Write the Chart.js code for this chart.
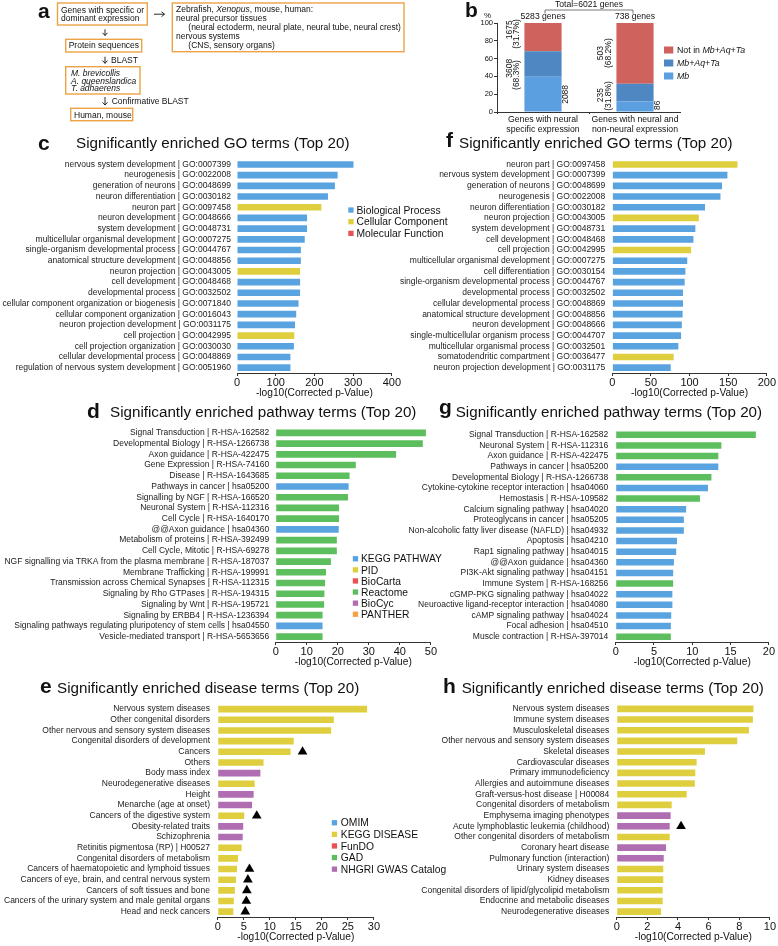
<!DOCTYPE html>
<html><head><meta charset="utf-8">
<script src="https://cdn.jsdelivr.net/npm/chart.js@4.4.1/dist/chart.umd.min.js"></script>
<style>
html,body{margin:0;padding:0;background:#fff;overflow:hidden;width:778px;height:946px;}
#wrap{position:relative;width:778px;height:946px;}
canvas{position:absolute;}
#ov{position:absolute;left:0;top:0;}
</style></head><body><div id="wrap">
<svg id="ov" width="778" height="946" xmlns="http://www.w3.org/2000/svg"></svg>
</div>
<script>
// ---------------- DATA ----------------
const bCategories = [['Genes with neural','specific expression'],['Genes with neural and','non-neural expression']];
const bTotals = [5283, 738];
const bTotalAll = 6021;
const bMbPct = [39.5, 11.7];
const bSharedOnlyPct = [28.8, 20.1];
const bNotPct = [31.7, 68.2];
const bMbCounts = [2088, 86];
const bSharedCounts = [3608, 235];
const bSharedPctText = ['68.3', '31.8'];
const bNotCounts = [1675, 503];
const bNotPctText = ['31.7', '68.2'];

const cLabels = ['nervous system development | GO:0007399','neurogenesis | GO:0022008','generation of neurons | GO:0048699','neuron differentiation | GO:0030182','neuron part | GO:0097458','neuron development | GO:0048666','system development | GO:0048731','multicellular organismal development | GO:0007275','single-organism developmental process | GO:0044767','anatomical structure development | GO:0048856','neuron projection | GO:0043005','cell development | GO:0048468','developmental process | GO:0032502','cellular component organization or biogenesis | GO:0071840','cellular component organization | GO:0016043','neuron projection development | GO:0031175','cell projection | GO:0042995','cell projection organization | GO:0030030','cellular developmental process | GO:0048869','regulation of nervous system development | GO:0051960'];
const cValues = [301,260,253,235,218,181,181,175,165,165,163,163,163,159,153,150,148,147,138,138];
const cTypes = ['BP','BP','BP','BP','CC','BP','BP','BP','BP','BP','CC','BP','BP','BP','BP','BP','CC','BP','BP','BP'];

const fLabels = ['neuron part | GO:0097458','nervous system development | GO:0007399','generation of neurons | GO:0048699','neurogenesis | GO:0022008','neuron differentiation | GO:0030182','neuron projection | GO:0043005','system development | GO:0048731','cell development | GO:0048468','cell projection | GO:0042995','multicellular organismal development | GO:0007275','cell differentiation | GO:0030154','single-organism developmental process | GO:0044767','developmental process | GO:0032502','cellular developmental process | GO:0048869','anatomical structure development | GO:0048856','neuron development | GO:0048666','single-multicellular organism process | GO:0044707','multicellular organismal process | GO:0032501','somatodendritic compartment | GO:0036477','neuron projection development | GO:0031175'];
const fValues = [162,149,142,140,120,112,107.5,105,102,97,94.6,93.7,91.5,91.5,91,90,89,85.5,79.4,75.6];
const fTypes = ['CC','BP','BP','BP','BP','CC','BP','BP','CC','BP','BP','BP','BP','BP','BP','BP','BP','BP','CC','BP'];

const dLabels = ['Signal Transduction | R-HSA-162582','Developmental Biology | R-HSA-1266738','Axon guidance | R-HSA-422475','Gene Expression | R-HSA-74160','Disease | R-HSA-1643685','Pathways in cancer | hsa05200','Signalling by NGF | R-HSA-166520','Neuronal System | R-HSA-112316','Cell Cycle | R-HSA-1640170','@@Axon guidance | hsa04360','Metabolism of proteins | R-HSA-392499','Cell Cycle, Mitotic | R-HSA-69278','NGF signalling via TRKA from the plasma membrane | R-HSA-187037','Membrane Trafficking | R-HSA-199991','Transmission across Chemical Synapses | R-HSA-112315','Signaling by Rho GTPases | R-HSA-194315','Signaling by Wnt | R-HSA-195721','Signaling by ERBB4 | R-HSA-1236394','Signaling pathways regulating pluripotency of stem cells | hsa04550','Vesicle-mediated transport | R-HSA-5653656'];
const dValues = [48.4,47.4,38.8,25.8,23.8,23.5,23.3,20.4,20.4,20.3,19.7,19.7,17.8,16.2,15.9,15.7,15.6,15.1,15.1,15.1];
const dSources = ['Reactome','Reactome','Reactome','Reactome','Reactome','KEGG','Reactome','Reactome','Reactome','KEGG','Reactome','Reactome','Reactome','Reactome','Reactome','Reactome','Reactome','Reactome','KEGG','Reactome'];

const gLabels = ['Signal Transduction | R-HSA-162582','Neuronal System | R-HSA-112316','Axon guidance | R-HSA-422475','Pathways in cancer | hsa05200','Developmental Biology | R-HSA-1266738','Cytokine-cytokine receptor interaction | hsa04060','Hemostasis | R-HSA-109582','Calcium signaling pathway | hsa04020','Proteoglycans in cancer | hsa05205','Non-alcoholic fatty liver disease (NAFLD) | hsa04932','Apoptosis | hsa04210','Rap1 signaling pathway | hsa04015','@@Axon guidance | hsa04360','PI3K-Akt signaling pathway | hsa04151','Immune System | R-HSA-168256','cGMP-PKG signaling pathway | hsa04022','Neuroactive ligand-receptor interaction | hsa04080','cAMP signaling pathway | hsa04024','Focal adhesion | hsa04510','Muscle contraction | R-HSA-397014'];
const gValues = [18.3,13.8,13.4,13.4,12.5,12.05,11.0,9.2,8.9,8.9,8.0,7.9,7.6,7.5,7.5,7.4,7.4,7.25,7.2,7.2];
const gSources = ['Reactome','Reactome','Reactome','KEGG','Reactome','KEGG','Reactome','KEGG','KEGG','KEGG','KEGG','KEGG','KEGG','KEGG','Reactome','KEGG','KEGG','KEGG','KEGG','Reactome'];

const eLabels = ['Nervous system diseases','Other congenital disorders','Other nervous and sensory system diseases','Congenital disorders of development','Cancers','Others','Body mass index','Neurodegenerative diseases','Height','Menarche (age at onset)','Cancers of the digestive system','Obesity-related traits','Schizophrenia','Retinitis pigmentosa (RP) | H00527','Congenital disorders of metabolism','Cancers of haematopoietic and lymphoid tissues','Cancers of eye, brain, and central nervous system','Cancers of soft tissues and bone','Cancers of the urinary system and male genital organs','Head and neck cancers'];
const eValues = [28.7,22.3,21.8,14.6,14.0,8.8,8.2,7.1,6.9,6.6,5.1,4.9,4.8,4.6,3.9,3.7,3.5,3.3,3.1,3.0];
const eSources = ['KEGGD','KEGGD','KEGGD','KEGGD','KEGGD','KEGGD','NHGRI','KEGGD','NHGRI','NHGRI','KEGGD','NHGRI','NHGRI','KEGGD','KEGGD','KEGGD','KEGGD','KEGGD','KEGGD','KEGGD'];
const eTriangles = [null,null,null,null,16.3,null,null,null,null,null,7.5,null,null,null,null,6.1,5.8,5.6,5.5,5.3];

const hLabels = ['Nervous system diseases','Immune system diseases','Musculoskeletal diseases','Other nervous and sensory system diseases','Skeletal diseases','Cardiovascular diseases','Primary immunodeficiency','Allergies and autoimmune diseases','Graft-versus-host disease | H00084','Congenital disorders of metabolism','Emphysema imaging phenotypes','Acute lymphoblastic leukemia (childhood)','Other congenital disorders of metabolism','Coronary heart disease','Pulmonary function (interaction)','Urinary system diseases','Kidney diseases','Congenital disorders of lipid/glycolipid metabolism','Endocrine and metabolic diseases','Neurodegenerative diseases'];
const hValues = [8.93,8.89,8.63,7.87,5.76,5.22,5.13,5.1,4.57,3.59,3.52,3.46,3.46,3.22,3.07,3.04,3.04,3.0,3.0,2.89];
const hSources = ['KEGGD','KEGGD','KEGGD','KEGGD','KEGGD','KEGGD','KEGGD','KEGGD','KEGGD','KEGGD','NHGRI','NHGRI','KEGGD','NHGRI','NHGRI','KEGGD','KEGGD','KEGGD','KEGGD','KEGGD'];
const hTriangles = [null,null,null,null,null,null,null,null,null,null,null,4.2,null,null,null,null,null,null,null,null];

const goLegend = [['BP','Biological Process'],['CC','Cellular Component'],['MF','Molecular Function']];
const pathLegend = [['KEGG','KEGG PATHWAY'],['PID','PID'],['BioCarta','BioCarta'],['Reactome','Reactome'],['BioCyc','BioCyc'],['PANTHER','PANTHER']];
const disLegend = [['OMIM','OMIM'],['KEGGD','KEGG DISEASE'],['FunDO','FunDO'],['GAD','GAD'],['NHGRI','NHGRI GWAS Catalog']];

// ---------------- STYLE ----------------
const FF = '"Liberation Sans", Arial, Helvetica, sans-serif';
const BLUE='#5aa3e1', YEL='#dfcf3f', RED='#e85252', GRN='#5dbe5d', PUR='#b06db1', ORA='#f5a246';
const COLORS = {BP:BLUE, CC:YEL, MF:RED, KEGG:BLUE, PID:YEL, BioCarta:RED, Reactome:GRN, BioCyc:PUR, PANTHER:ORA, OMIM:BLUE, KEGGD:YEL, FunDO:RED, GAD:GRN, NHGRI:PUR};
Chart.defaults.font.family = FF;
Chart.defaults.color = '#111';

const wrap = document.getElementById('wrap');
const ov = document.getElementById('ov');
function makeCanvas(left, top, w, h) {
  const c = document.createElement('canvas');
  c.width = w; c.height = h;
  c.style.left = left + 'px'; c.style.top = top + 'px';
  c.style.width = w + 'px'; c.style.height = h + 'px';
  wrap.insertBefore(c, ov);
  return c;
}

function hbar(o) {
  const cv = makeCanvas(o.left, o.top, o.w, o.h);
  const datasets = [{type:'bar', data:o.values, backgroundColor:o.types.map(t => COLORS[t]), barPercentage:0.62, categoryPercentage:1, borderWidth:0}];
  if (o.tri) datasets.push({type:'line', indexAxis:'y', data:o.tri, showLine:false, pointStyle:'triangle', pointRadius:5.6, pointBackgroundColor:'#000', pointBorderColor:'#000', pointBorderWidth:0, clip:false});
  new Chart(cv, {
    data:{labels:o.labels, datasets},
    options:{
      indexAxis:'y', responsive:false, animation:false, devicePixelRatio:1,
      layout:{padding:{top:5, right:0, bottom:0, left:0}},
      plugins:{legend:{display:false}, tooltip:{enabled:false}},
      scales:{
        x:{type:'linear', min:0, max:o.max,
           ticks:{stepSize:o.step, font:{size:11}, color:'#111', padding:0, maxRotation:0, autoSkip:false},
           grid:{display:true, drawOnChartArea:false, drawTicks:true, tickLength:3, color:'#333', lineWidth:1},
           border:{display:true, color:'#333', width:1},
           title:{display:true, text:'-log10(Corrected p-Value)', font:{size:10.2}, color:'#111', padding:{top:0, bottom:1.9}},
           afterFit(s){ s.height = 28; }},
        y:{ticks:{font:{size:8.5}, color:'#222', padding:o.lpad, autoSkip:false},
           grid:{display:false, drawTicks:false}, border:{display:false},
           afterFit(s){ s.width = o.yw; }}
      }
    }
  });
}

// ---------------- PANEL B ----------------
const bPlugin = {
  id:'bLabels',
  afterDatasetsDraw(chart) {
    const ctx = chart.ctx, ys = chart.scales.y;
    const bars = chart.getDatasetMeta(0).data;
    ctx.save();
    ctx.fillStyle = '#111';
    ctx.font = '8.5px ' + FF;
    function rot(x, v, t) {
      ctx.save(); ctx.translate(x, ys.getPixelForValue(v)); ctx.rotate(-Math.PI/2);
      ctx.textAlign = 'center'; ctx.textBaseline = 'middle'; ctx.fillText(t, 0, 0); ctx.restore();
    }
    const L = i => bars[i].x - bars[i].width/2, R = i => bars[i].x + bars[i].width/2;
    // bar 1
    rot(L(0)-14.5, 92.4, String(bNotCounts[0]));
    rot(L(0)-7.5, 87.7, '(' + bNotPctText[0] + '%)');
    rot(L(0)-14.5, 49.1, String(bSharedCounts[0]));
    rot(L(0)-7.5, 41.5, '(' + bSharedPctText[0] + '%)');
    rot(R(0)+4, 19.8, String(bMbCounts[0]));
    // bar 2
    rot(L(1)-15.5, 66.1, String(bNotCounts[1]));
    rot(L(1)-8, 66.1, '(' + bNotPctText[1] + '%)');
    rot(L(1)-15.5, 18.9, String(bSharedCounts[1]));
    rot(L(1)-8, 18.0, '(' + bSharedPctText[1] + '%)');
    rot(R(1)+4, 7.6, String(bMbCounts[1]));
    // totals
    ctx.textAlign = 'center'; ctx.textBaseline = 'alphabetic';
    ctx.font = '8.6px ' + FF;
    const top = chart.chartArea.top;
    ctx.fillText(bTotals[0] + ' genes', bars[0].x, top - 4.3);
    ctx.fillText(bTotals[1] + ' genes', bars[1].x, top - 4.3);
    const mid = (bars[0].x + bars[1].x)/2;
    ctx.fillText('Total=' + bTotalAll + ' genes', mid, 6.8);
    ctx.strokeStyle = '#555'; ctx.lineWidth = 0.8;
    ctx.beginPath();
    ctx.moveTo(bars[0].x + 2, 13.5); ctx.lineTo(bars[0].x + 2, 10); ctx.lineTo(bars[1].x - 2, 10); ctx.lineTo(bars[1].x - 2, 13.5);
    ctx.stroke();
    ctx.restore();
  }
};
const cvb = makeCanvas(440, 0, 241, 135);
new Chart(cvb, {
  type:'bar',
  data:{labels:bCategories, datasets:[
    {label:'Mb', data:bMbPct, backgroundColor:'#5c9fe0'},
    {label:'Mb+Aq+Ta', data:bSharedOnlyPct, backgroundColor:'#4f87c2'},
    {label:'Not in Mb+Aq+Ta', data:bNotPct, backgroundColor:'#cf625d'}
  ]},
  options:{
    responsive:false, animation:false, devicePixelRatio:1,
    layout:{padding:{top:23, right:0, bottom:0, left:0}},
    plugins:{legend:{display:false}, tooltip:{enabled:false}},
    datasets:{bar:{barPercentage:0.404, categoryPercentage:1, borderWidth:0}},
    scales:{
      x:{stacked:true, ticks:{font:{size:8.7}, color:'#111', padding:0, maxRotation:0, autoSkip:false},
         grid:{display:true, drawOnChartArea:false, drawTicks:true, tickLength:2, color:'#333'},
         border:{display:true, color:'#333'}, afterFit(s){ s.height = 23; }},
      y:{stacked:true, min:0, max:100, ticks:{stepSize:20, font:{size:7.5}, color:'#111', padding:1},
         grid:{display:true, drawOnChartArea:false, drawTicks:true, tickLength:3, color:'#333'},
         border:{display:true, color:'#333'}, afterFit(s){ s.width = 57; }}
    }
  },
  plugins:[bPlugin]
});

// ---------------- BAR PANELS ----------------
hbar({left:0, top:148, w:401, h:253, yw:237, lpad:6, labels:cLabels, values:cValues, types:cTypes, max:400, step:100});
hbar({left:390, top:147, w:386, h:254, yw:222.3, lpad:7, labels:fLabels, values:fValues, types:fTypes, max:200, step:50});
hbar({left:0, top:416, w:437, h:254, yw:275.7, lpad:6.4, labels:dLabels, values:dValues, types:dSources, max:50, step:10});
hbar({left:390, top:417, w:385, h:253, yw:225.7, lpad:7.4, labels:gLabels, values:gValues, types:gSources, max:20, step:5});
hbar({left:0, top:691, w:380, h:254, yw:217.7, lpad:7.7, labels:eLabels, values:eValues, types:eSources, max:30, step:5, tri:eTriangles});
hbar({left:390, top:691, w:386, h:254, yw:226.7, lpad:7.4, labels:hLabels, values:hValues, types:hSources, max:10, step:2, tri:hTriangles});

// ---------------- OVERLAY TEXT ----------------
let s = '';
const T = (x, y, txt, size, extra) => { s += `<text x="${x}" y="${y}" font-size="${size}" ${extra||''}>${txt}</text>`; };
s += `<g font-family='${FF}' fill="#111">`;
// panel letters
const LET = (x, y, t) => T(x, y, t, 21, 'font-weight="bold"');
LET(38, 17.5, 'a'); LET(465, 17.3, 'b'); LET(38, 149.5, 'c'); LET(446, 146.7, 'f');
LET(87, 418.3, 'd'); LET(439, 414, 'g'); LET(40, 693.3, 'e'); LET(443, 693.3, 'h');
// titles
T(76, 147.5, 'Significantly enriched GO terms (Top 20)', 15.2);
T(459, 147.5, 'Significantly enriched GO terms (Top 20)', 15.2);
T(110, 416.7, 'Significantly enriched pathway terms (Top 20)', 15.2);
T(455.7, 416.7, 'Significantly enriched pathway terms (Top 20)', 15.2);
T(57, 693, 'Significantly enriched disease terms (Top 20)', 15.2);
T(461.7, 693, 'Significantly enriched disease terms (Top 20)', 15.2);
// panel a
const OR = '#eba345';
const box = (x1, y1, x2, y2) => { s += `<rect x="${x1}" y="${y1}" width="${x2-x1}" height="${y2-y1}" fill="none" stroke="${OR}" stroke-width="1.4"/>`; };
const down = (x, y1, y2) => { s += `<path d="M${x},${y1} V${y2} M${x-2.5},${y2-2.7} L${x},${y2} L${x+2.5},${y2-2.7}" fill="none" stroke="#111" stroke-width="0.9"/>`; };
box(57.5, 3, 147.3, 25);
T(61, 12.8, 'Genes with specific or', 8.5); T(61, 21.4, 'dominant expression', 8.5);
s += `<path d="M154,14.2 H164.5 M161.5,11.7 L164.5,14.2 L161.5,16.7" fill="none" stroke="#111" stroke-width="0.9"/>`;
box(172.3, 3, 404, 51.7);
T(176, 12.3, 'Zebrafish, <tspan font-style="italic">Xenopus</tspan>, mouse, human:', 8.5);
T(176, 21.1, 'neural precursor tissues', 8.5);
T(188.3, 29.9, '(neural ectoderm, neural plate, neural tube, neural crest)', 8.5);
T(176, 38.7, 'nervous systems', 8.5);
T(188.3, 47.5, '(CNS, sensory organs)', 8.5);
down(105, 29.3, 35.5);
box(65.7, 39.3, 141.7, 52);
T(68.7, 48.4, 'Protein sequences', 8.5);
down(105, 56.7, 63.3);
T(111, 63, 'BLAST', 8.5);
box(65.7, 66.7, 140, 94);
T(71, 75.8, 'M. brevicollis', 8.5, 'font-style="italic"');
T(71, 83.5, 'A. queenslandica', 8.5, 'font-style="italic"');
T(71, 91.2, 'T. adhaerens', 8.5, 'font-style="italic"');
down(105, 97, 105);
T(111.7, 103.7, 'Confirmative BLAST', 8.5);
box(70.7, 108.3, 132.7, 120.7);
T(74, 118, 'Human, mouse', 8.5);
// panel b extras
T(484, 17.5, '%', 8);
const bLeg = [['#cf625d', 'Not in <tspan font-style="italic">Mb+Aq+Ta</tspan>'], ['#4f87c2', '<tspan font-style="italic">Mb+Aq+Ta</tspan>'], ['#5c9fe0', '<tspan font-style="italic">Mb</tspan>']];
bLeg.forEach((it, i) => {
  const cy = 50 + 13 * i;
  s += `<rect x="664" y="${cy-3.5}" width="9.3" height="7" fill="${it[0]}"/>`;
  T(677, cy + 3.1, it[1], 8.8);
});
// legends
function legend(items, sx, tx, cy0, step) {
  items.forEach((it, i) => {
    const cy = cy0 + step * i;
    s += `<rect x="${sx}" y="${cy-2.6}" width="5.3" height="5.3" fill="${COLORS[it[0]]}"/>`;
    T(tx, cy + 3.7, it[1], 10.3);
  });
}
legend(goLegend, 348.3, 356.5, 210, 11.65);
legend(pathLegend, 352.8, 361, 558.7, 11.1);
legend(disLegend, 331.8, 340.8, 822.7, 11.6);
s += '</g>';
ov.innerHTML = s;
</script>
</body></html>
